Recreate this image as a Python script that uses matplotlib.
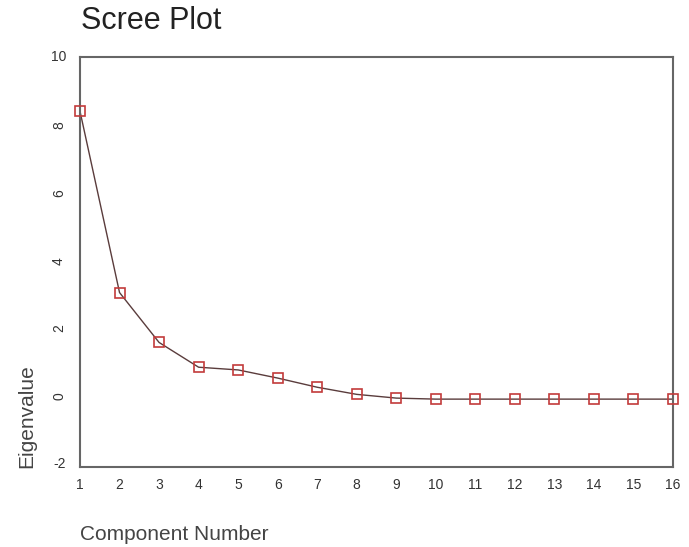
import numpy as np
import matplotlib
matplotlib.use("Agg")
from matplotlib import pyplot as plt

plt.rcParams['font.family'] = ['Liberation Sans', 'DejaVu Sans']
plt.rcParams['axes.unicode_minus'] = False

components = list(range(1, 17))
eigenvalues = [8.40, 3.06, 1.59, 0.86, 0.78, 0.54, 0.27, 0.06,
               -0.05, -0.08, -0.08, -0.08, -0.08, -0.08, -0.08, -0.08]
y_ticks = [-2, 0, 2, 4, 6, 8, 10]

fig = plt.figure(figsize=(6.89, 5.47), dpi=100)
ax = fig.add_axes([80 / 689, 1 - 467 / 547, 593 / 689, 410 / 547])

ax.plot(components, eigenvalues, '-', color='#5a3c3c', lw=1.0, zorder=2)
ax.plot(components, eigenvalues, 's', ms=7, mfc='none', mec='#c23b3b',
        mew=1.2, zorder=3, clip_on=False)

ax.set_xlim(1, 16)
ax.set_ylim(-2.08, 10)
ax.set_xticks(components)
ax.set_yticks(y_ticks)
ax.tick_params(length=0, labelsize=10, labelcolor='#333333')
ax.tick_params(axis='x', pad=8)
ax.tick_params(axis='y', pad=10)
# single-digit labels are drawn sideways, two-character ones are not
for lbl in ax.get_yticklabels():
    if len(lbl.get_text()) == 1:
        lbl.set_rotation(90)
    lbl.set_va('center')

for s in ax.spines.values():
    s.set_color('#666666')
    s.set_linewidth(1.5)

fig.text(81 / 689, 1 - 29 / 547, "Scree Plot", fontsize=22, color='#222222',
         ha='left', va='baseline')
fig.text(80 / 689, 1 - 540 / 547, "Component Number", fontsize=15,
         color='#444444', ha='left', va='baseline')
fig.text(27 / 689, 1 - 468 / 547, "Eigenvalue", fontsize=15, color='#444444',
         rotation=90, ha='center', va='bottom')

fig.savefig("out.png", dpi=100, facecolor='white')
